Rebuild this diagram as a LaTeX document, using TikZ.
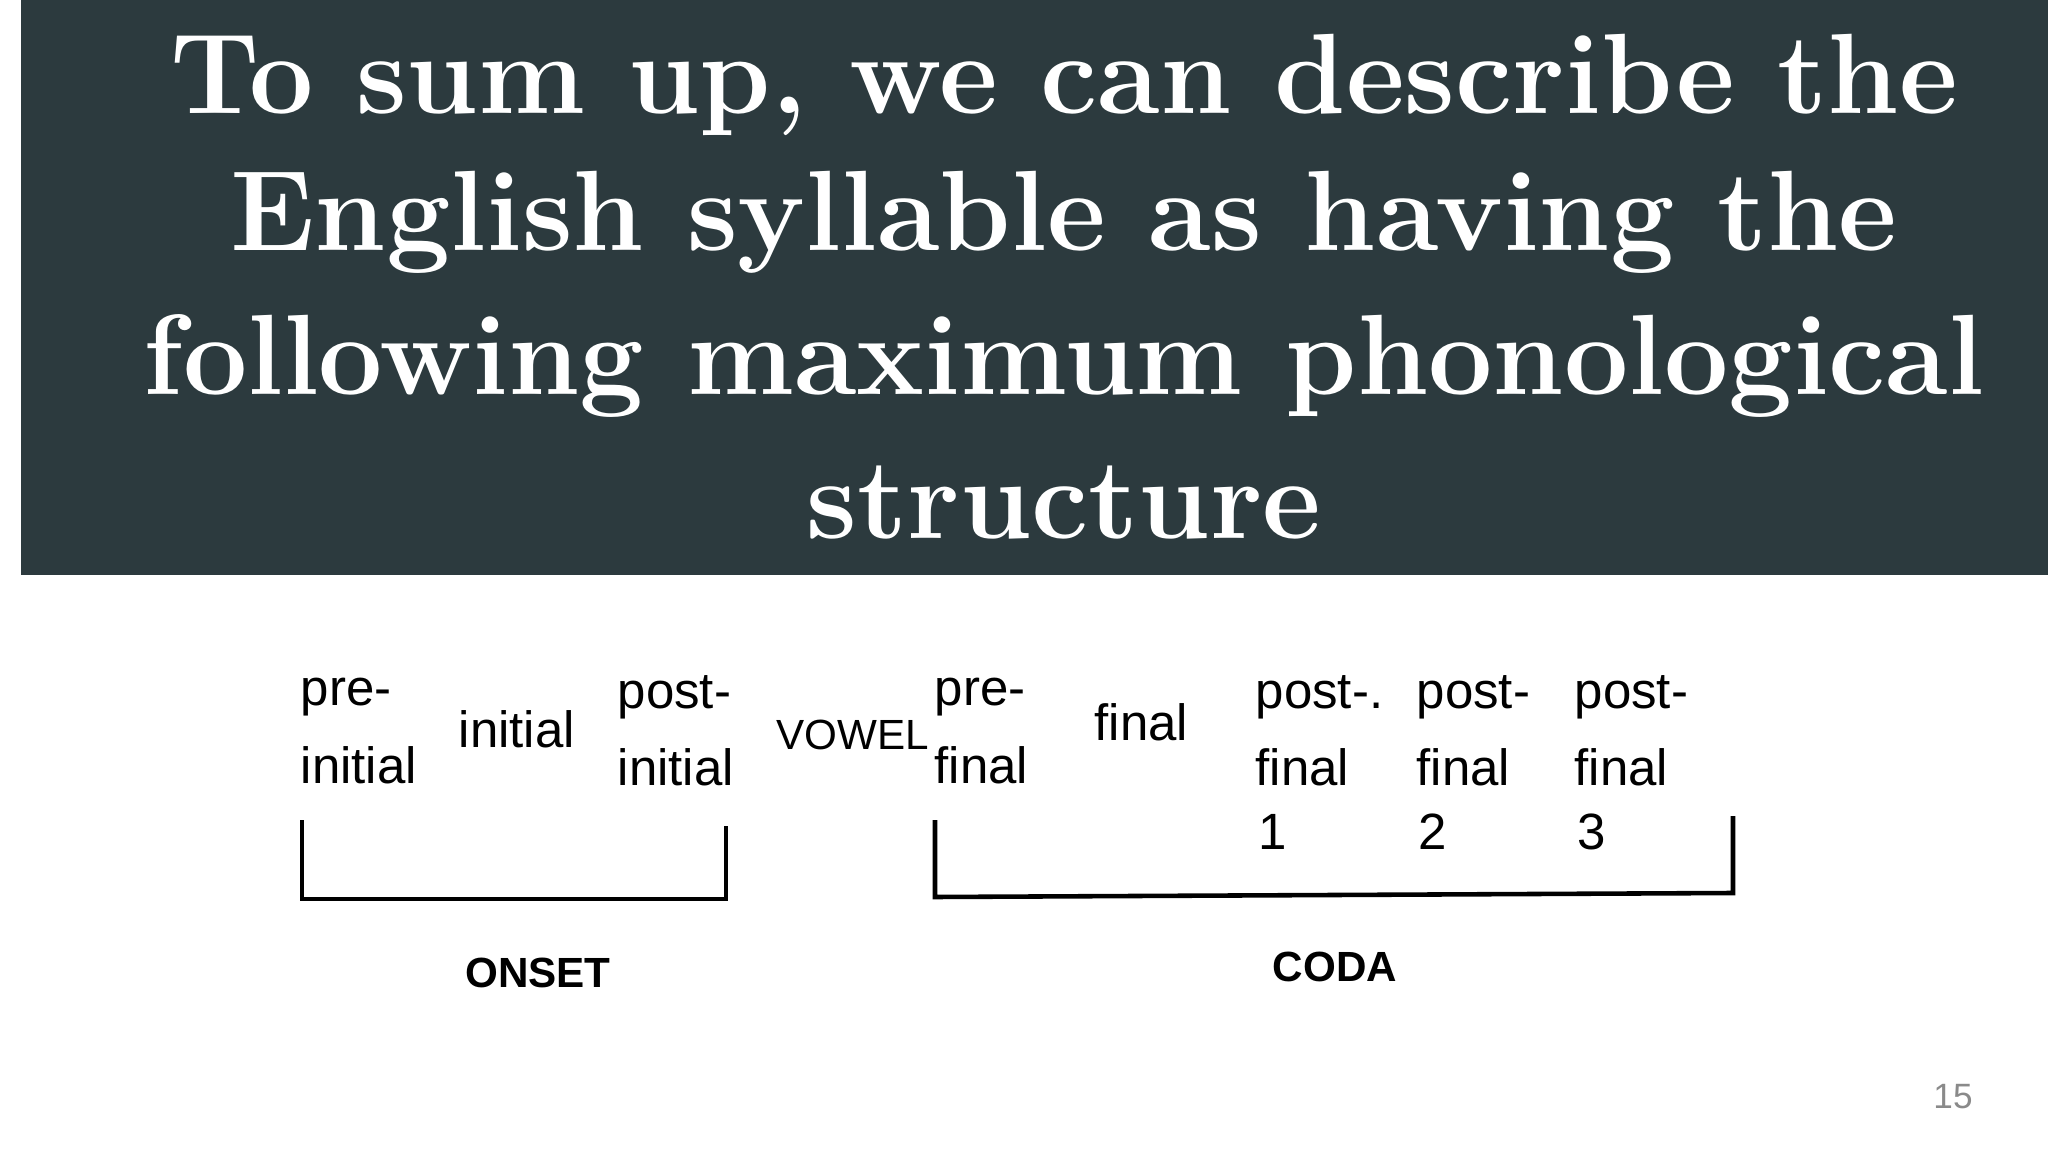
\documentclass[tikz,border=0pt]{standalone}
\usepackage{fontspec}
\setsansfont{Liberation Sans}
\definecolor{banner}{HTML}{2C3A3E}
\definecolor{pgnum}{HTML}{8A8A8A}
\begin{document}
\begin{tikzpicture}[x=0.01cm,y=-0.01cm,
  title/.style={text=white,font=\fontsize{32.5}{36}\selectfont\bfseries,inner sep=0},
  lab/.style={anchor=west,font=\sffamily\fontsize{14.5}{22}\selectfont,inner sep=0,align=left},
  capstyle/.style={font=\sffamily\bfseries\fontsize{12}{15}\selectfont,inner sep=0},
  brk/.style={line width=1.3pt}]
\useasboundingbox (0,0) rectangle (2048,1152);
\fill[banner] (21,0) rectangle (2048,575);
\node[title] (t1) at (1064,85) {To sum up, we can describe the};
\node[title] (t2) at (1064,222) {English syllable as having the};
\node[title] (t3) at (1064,366) {following maximum phonological};
\node[title] (t4) at (1064,503) {structure};
\node[lab] (a) at (300,731) {pre-\\initial};
\node[lab] (b) at (458,729) {initial};
\node[lab] (c) at (617,731) {post-\\initial};
\node[lab,font=\sffamily\fontsize{12}{16}\selectfont] (v) at (776,735) {VOWEL};
\node[lab] (d) at (934,731) {pre-\\final};
\node[lab] (e) at (1094,722) {final};
\node[lab] (f) at (1255,731) {post-.\\final};
\node[lab] (g) at (1416,731) {post-\\final};
\node[lab] (h) at (1574,731) {post-\\final};
\node[lab] (n1) at (1258,832) {1};
\node[lab] (n2) at (1418,832) {2};
\node[lab] (n3) at (1577,832) {3};
\coordinate (o1) at (302,820); \coordinate (o2) at (726,826);
\draw[brk] (o1) -- (302,899) -- (726,899) -- (o2);
\coordinate (c1) at (935,820); \coordinate (c2) at (1733,816);
\draw[brk] (c1) -- (935,897) -- (1733,893) -- (c2);
\node[capstyle] (on) at (538,973) {ONSET};
\node[capstyle] (co) at (1335,967) {CODA};
\node[text=pgnum,font=\sffamily\fontsize{10}{12}\selectfont] (pn) at (1953,1097) {15};
\end{tikzpicture}
\end{document}
